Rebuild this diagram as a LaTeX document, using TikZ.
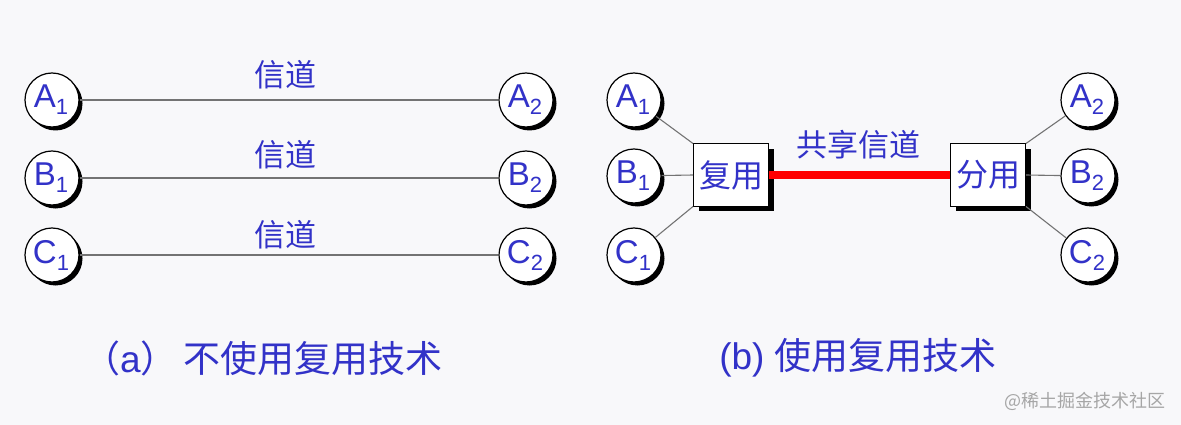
\documentclass[tikz,border=0pt]{standalone}
\usepackage{fontspec}
\setmainfont{Liberation Sans}
\newfontfamily\cjk{Noto Sans CJK SC}
\usetikzlibrary{shadows}
\definecolor{txtblue}{RGB}{50,50,200}
\definecolor{bg}{RGB}{248,248,250}
\definecolor{linegray}{RGB}{115,115,115}
\newcommand{\lab}[2]{\fontsize{33}{33}\selectfont\hspace*{-2pt}#1\raisebox{-7pt}{\fontsize{22}{22}\selectfont #2}}
\tikzset{
  station/.style={circle, draw=black, line width=1.2pt, fill=white, minimum size=54pt, inner sep=0pt,
    text=txtblue, drop shadow={shadow xshift=3.5pt, shadow yshift=-3.5pt, fill=black, opacity=1}},
  muxbox/.style={rectangle, draw=black, line width=1pt, fill=white, minimum width=75pt, minimum height=62pt,
    inner sep=0pt, text=txtblue, font=\cjk\fontsize{32}{32}\selectfont,
    drop shadow={shadow xshift=5pt, shadow yshift=-5pt, fill=black, opacity=1}},
  chan/.style={draw=linegray, line width=1.6pt},
  spoke/.style={draw=linegray, line width=1.1pt},
  chlabel/.style={text=txtblue, font=\cjk\fontsize{31}{31}\selectfont, inner sep=0pt},
  caption/.style={text=txtblue, font=\fontsize{37}{37}\selectfont, inner sep=0pt},
}
\begin{document}
\begin{tikzpicture}[x=1pt,y=-1pt]
\useasboundingbox[fill=bg] (0,0) rectangle (1181,425);
% (a)
\node[station] (a1) at (52,100) {\lab{A}{1}};
\node[station] (b1) at (52,178) {\lab{B}{1}};
\node[station] (c1) at (52,255) {\lab{C}{1}};
\node[station] (a2) at (526,100) {\lab{A}{2}};
\node[station] (b2) at (526,178) {\lab{B}{2}};
\node[station] (c2) at (526,255) {\lab{C}{2}};
\draw[chan] (a1) -- (a2);
\draw[chan] (b1) -- (b2);
\draw[chan] (c1) -- (c2);
\node[chlabel] (la) at (285,75) {信道};
\node[chlabel] (lb) at (285,155) {信道};
\node[chlabel] (lc) at (285,235) {信道};
\node[caption] (capa) at (263,358) {{\cjk （}a{\cjk ）\,不使用复用技术}};
% (b)
\node[station] (a3) at (634,100) {\lab{A}{1}};
\node[station] (b3) at (634,176) {\lab{B}{1}};
\node[station] (c3) at (634,255) {\lab{C}{1}};
\node[station] (a4) at (1088,100) {\lab{A}{2}};
\node[station] (b4) at (1088,176) {\lab{B}{2}};
\node[station] (c4) at (1088,255) {\lab{C}{2}};
\node[muxbox] (mux) at (731,175) {复用};
\node[muxbox] (demux) at (988,175) {分用};
\draw[spoke] (a3) -- (mux.north west);
\draw[spoke] (b3) -- (mux.west);
\draw[spoke] (c3) -- (mux.south west);
\draw[spoke] (demux.north east) -- (a4);
\draw[spoke] (demux.east) -- (b4);
\draw[spoke] (demux.south east) -- (c4);
\draw[red, line width=8pt] (mux.east) -- (demux.west);
\node[chlabel] (lshare) at (858,145) {共享信道};
\node[caption] (capb) at (858,358) {(b) {\cjk 使用复用技术}};
\node[text=gray!70, font=\cjk\fontsize{18}{18}\selectfont, inner sep=0pt] (wm) at (1085,401) {@稀土掘金技术社区};
\end{tikzpicture}
\end{document}
